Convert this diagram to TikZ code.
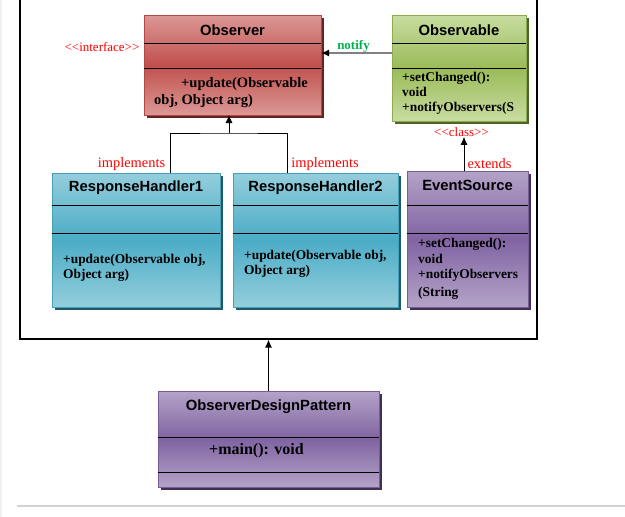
\documentclass[tikz,border=0pt]{standalone}
\usepackage{fontspec}
\setmainfont{Liberation Serif}
\newfontfamily\headfont{Liberation Sans}
\usetikzlibrary{arrows.meta,shadows}

% colour schemes of the class boxes: light edge, dark middle, border, shadow
\definecolor{redLight}{RGB}{220,152,150}
\definecolor{redDark}{RGB}{192,80,77}
\definecolor{redBorder}{RGB}{180,72,70}
\definecolor{redShadow}{RGB}{99,37,35}
\definecolor{greenLight}{RGB}{200,220,160}
\definecolor{greenDark}{RGB}{155,187,89}
\definecolor{greenBorder}{RGB}{140,172,80}
\definecolor{greenShadow}{RGB}{79,98,40}
\definecolor{blueLight}{RGB}{148,206,220}
\definecolor{blueDark}{RGB}{75,172,198}
\definecolor{blueBorder}{RGB}{70,160,186}
\definecolor{blueShadow}{RGB}{32,88,103}
\definecolor{purpleLight}{RGB}{180,163,200}
\definecolor{purpleDark}{RGB}{128,100,162}
\definecolor{purpleBorder}{RGB}{118,92,152}
\definecolor{purpleShadow}{RGB}{63,49,81}
\definecolor{notifyGreen}{RGB}{0,176,80}

\begin{document}
\begin{tikzpicture}[x=1pt,y=-1pt,
  umlbox/.style={rectangle, draw=#1Border, line width=0.8pt,
    top color=#1Light, bottom color=#1Light, middle color=#1Dark,
    general shadow={fill=#1Shadow, shade=false, shadow xshift=3pt, shadow yshift=-3pt},
    inner sep=0pt, outer sep=0pt},
  divider/.style={line width=0.8pt, black},
  ttl/.style={font=\headfont\bfseries\fontsize{14.8}{17}\selectfont, inner sep=0pt},
  body/.style={font=\bfseries\fontsize{#1}{16}\selectfont, anchor=base west, inner sep=0pt},
  body/.default=13.4,
  lbl/.style={text=red, font=\fontsize{14.4}{16}\selectfont, inner sep=0pt},
  stereo/.style={text=red, font=\fontsize{13}{15}\selectfont, inner sep=0pt},
  conn/.style={line width=0.9pt, black},
  tip/.style={-{Latex[length=8pt,width=7pt]}}
]
\useasboundingbox (0,0) rectangle (625,517);
\clip (0,0) rectangle (625,517);

% page rules
\draw[gray!12, line width=1.5pt] (1,0) -- (1,517);
\draw[gray!35, line width=1.2pt] (17,506) -- (625,506);

% package frame
\node[draw, line width=1.2pt, minimum width=517pt, minimum height=344pt, inner sep=0pt] (frame) at (278.5,167) {};

% class boxes
\node[umlbox=red, minimum width=177pt, minimum height=100pt] (observer) at (232.5,65) {};
\draw[divider] ([yshift=-28pt]observer.north west) -- ([yshift=-28pt]observer.north east);
\draw[divider] ([yshift=-53pt]observer.north west) -- ([yshift=-53pt]observer.north east);

\node[umlbox=green, minimum width=134pt, minimum height=106pt] (observable) at (459,68) {};
\draw[divider] ([yshift=-28pt]observable.north west) -- ([yshift=-28pt]observable.north east);
\draw[divider] ([yshift=-53pt]observable.north west) -- ([yshift=-53pt]observable.north east);

\node[umlbox=blue, minimum width=168pt, minimum height=134pt] (rh1) at (136,240) {};
\draw[divider] ([yshift=-32pt]rh1.north west) -- ([yshift=-32pt]rh1.north east);
\draw[divider] ([yshift=-60pt]rh1.north west) -- ([yshift=-60pt]rh1.north east);

\node[umlbox=blue, minimum width=165pt, minimum height=134pt] (rh2) at (315.5,240) {};
\draw[divider] ([yshift=-32pt]rh2.north west) -- ([yshift=-32pt]rh2.north east);
\draw[divider] ([yshift=-60pt]rh2.north west) -- ([yshift=-60pt]rh2.north east);

\node[umlbox=purple, minimum width=121pt, minimum height=136pt] (evsrc) at (467.5,239) {};
\draw[divider] ([yshift=-34pt]evsrc.north west) -- ([yshift=-34pt]evsrc.north east);
\draw[divider] ([yshift=-62pt]evsrc.north west) -- ([yshift=-62pt]evsrc.north east);

\node[umlbox=purple, minimum width=221pt, minimum height=96pt] (odp) at (268.5,439) {};
\draw[divider] ([yshift=-46pt]odp.north west) -- ([yshift=-46pt]odp.north east);
\draw[divider] ([yshift=-81pt]odp.north west) -- ([yshift=-81pt]odp.north east);

% titles
\node[ttl] (observer-t) at (232.5,30) {Observer};
\node[ttl] (observable-t) at (459,30) {Observable};
\node[ttl] (rh1-t) at (136,188) {ResponseHandler1};
\node[ttl] (rh2-t) at (315.5,188) {ResponseHandler2};
\node[ttl] (evsrc-t) at (467.5,185) {EventSource};
\node[ttl] (odp-t) at (268.5,407) {ObserverDesignPattern};

% operations
\node[body=14.5] (observer-o1) at (181,87) {+update(Observable};
\node[body=14.5] (observer-o2) at (154,104) {obj, Object arg)};
\node[body] (observable-o1) at (402,81) {+setChanged():};
\node[body] (observable-o2) at (402,96) {void};
\node[body] (observable-o3) at (402,111) {+notifyObservers(S};
\node[body] (rh1-o1) at (63,263) {+update(Observable obj,};
\node[body] (rh1-o2) at (63,278) {Object arg)};
\node[body] (rh2-o1) at (244,259) {+update(Observable obj,};
\node[body] (rh2-o2) at (244,274) {Object arg)};
\node[body] (evsrc-o1) at (418,247) {+setChanged():};
\node[body] (evsrc-o2) at (418,263) {void};
\node[body] (evsrc-o3) at (418,278) {+notifyObservers};
\node[body] (evsrc-o4) at (418,296) {(String};
\node[body=16] (odp-o1) at (209,454) {+main(): void};

% stereotypes and relation labels
\node[stereo] (iface) at (102,47) {<{}<interface>{}>};
\node[stereo] (clslbl) at (461.5,132) {<{}<class>{}>};
\node[lbl] (impl1) at (131.5,164) {implements};
\node[lbl] (impl2) at (325,164) {implements};
\node[lbl] (ext) at (489.5,164) {extends};
\node[font=\bfseries\fontsize{13}{15}\selectfont, text=notifyGreen, inner sep=0pt] (notify) at (353.5,46) {notify};

% relations
\coordinate (joint) at (229,133);
\draw[conn] ([xshift=34pt]rh1.north) |- (joint) -| ([xshift=-28.5pt]rh2.north);
\draw[conn, tip] (joint) -- ([xshift=-3.5pt]observer.south);
\draw[gray, line width=2pt, -{Latex[length=8pt,width=7pt,color=black]}]
  ([yshift=-38pt]observable.north west) -- ([yshift=-38pt]observer.north east);
\draw[conn, tip] ([xshift=-3.5pt]evsrc.north) -- ([xshift=-3.5pt]evsrc.north |- clslbl.south);
\draw[conn, tip] (odp.north) -- (odp.north |- frame.south);
\end{tikzpicture}
\end{document}
